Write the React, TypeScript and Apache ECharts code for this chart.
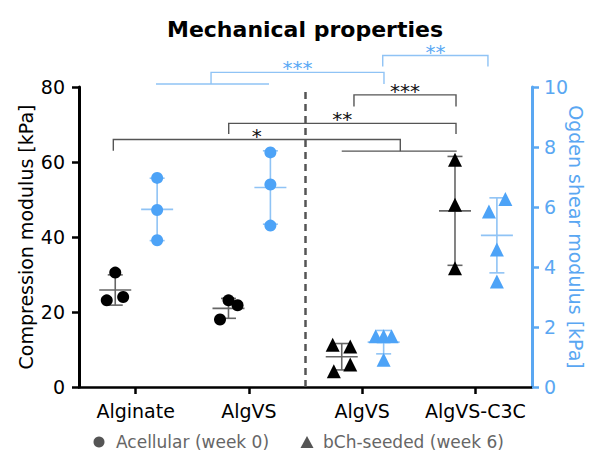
import React, { useEffect, useRef } from "react";
import * as echarts from "echarts";

// ---------- data ----------
const categories = ["Alginate", "AlgVS", "AlgVS", "AlgVS-C3C"];
const groupShapes = ["circle", "circle", "triangle", "triangle"];

// Compression modulus [kPa] (left axis), black markers
const compressionValues = [
  [23.1, 30.5, 24.0],
  [18.0, 23.1, 21.8],
  [11.3, 10.8, 4.2, 6.0],
  [60.6, 48.6, 31.7],
];
const compressionJitter = [
  [-0.075, 0, 0.07],
  [-0.075, 0, 0.08],
  [-0.08, 0.075, -0.07, 0.075],
  [0, 0, 0],
];

// Ogden shear modulus [kPa] (right axis), blue markers
const ogdenValues = [
  [6.97, 5.9, 4.89],
  [7.82, 6.75, 5.38],
  [1.69, 1.69, 1.69, 0.91],
  [5.85, 6.27, 4.58, 3.52],
];
const ogdenJitter = [
  [0, 0, 0],
  [0, 0, 0],
  [-0.07, 0, 0.07, 0],
  [-0.07, 0.075, 0, 0],
];

// Significance brackets (x in category units, y in left-axis units)
const blackBracketPaths = [
  [[[2.428, 74.8], [2.428, 77.9], [3.329, 77.9], [3.329, 74.8]]],
  [[[1.322, 67.5], [1.322, 70.3], [3.329, 70.3], [3.329, 67.5]]],
  [
    [[0.303, 63.0], [0.303, 66.0], [2.837, 66.0], [2.837, 62.9]],
    [[2.32, 62.9], [3.335, 62.9]],
  ],
];
const blackBracketLabels = ["***", "**", "*"];
const blackBracketLabelPos = [[2.878, 77.9], [2.325, 70.3], [1.57, 66.0]];

const blueBracketPaths = [
  [
    [[0.68, 80.8], [1.678, 80.8]],
    [[1.166, 80.8], [1.166, 83.9], [2.693, 83.9], [2.693, 80.8]],
  ],
  [[[2.682, 85.5], [2.682, 88.4], [3.611, 88.4], [3.611, 85.5]]],
];
const blueBracketLabels = ["***", "**"];
const blueBracketLabelPos = [[1.93, 83.9], [3.147, 88.4]];

const divider = [[2, 0], [2, 79.5]];

const leftAxis = { min: 0, max: 80, interval: 20 };
const rightAxis = { min: 0, max: 10, interval: 2 };

// ---------- styles ----------
const FONT = "DejaVu Sans";
const BLACK = "#000000";
const BLUE = "#4da3f7";
const BLUE_AXIS = "#5aa7f2";
const BLUE_LIGHT = "#8fc3f5";
const GRAY_BAR = "#666666";
const BRACKET_GRAY = "#555555";
const COMP_OFFSET = -0.18;
const OGDEN_OFFSET = 0.19;

function mean(a: number[]) {
  return a.reduce((s, v) => s + v, 0) / a.length;
}
function sd(a: number[]) {
  const m = mean(a);
  return Math.sqrt(a.reduce((s, v) => s + (v - m) * (v - m), 0) / (a.length - 1));
}

function errorBarSeries(values: number[][], offset: number, yAxisIndex: number, color: string) {
  return {
    type: "custom",
    xAxisIndex: 1,
    yAxisIndex,
    z: 2,
    clip: false,
    data: values.map((v, i) => [i + 0.5 + offset, mean(v), sd(v)]),
    renderItem: (params: any, api: any) => {
      const x = api.value(0);
      const m = api.value(1);
      const s = api.value(2);
      const top = api.coord([x, m + s]);
      const bot = api.coord([x, m - s]);
      const mid = api.coord([x, m]);
      const st = { stroke: color, lineWidth: 1.6 };
      return {
        type: "group",
        children: [
          { type: "line", shape: { x1: top[0], y1: top[1], x2: bot[0], y2: bot[1] }, style: st },
          { type: "line", shape: { x1: top[0] - 7.5, y1: top[1], x2: top[0] + 7.5, y2: top[1] }, style: st },
          { type: "line", shape: { x1: bot[0] - 7.5, y1: bot[1], x2: bot[0] + 7.5, y2: bot[1] }, style: st },
          { type: "line", shape: { x1: mid[0] - 16, y1: mid[1], x2: mid[0] + 16, y2: mid[1] }, style: st },
        ],
      };
    },
  };
}

function bracketSeries(paths: number[][][][], labels: string[], labelPos: number[][], lineColor: string, textColor: string) {
  return {
    type: "custom",
    xAxisIndex: 1,
    yAxisIndex: 0,
    z: 5,
    clip: false,
    silent: true,
    data: labels.map((_, i) => [i]),
    renderItem: (params: any, api: any) => {
      const i = params.dataIndex;
      const children: any[] = paths[i].map((path) => ({
        type: "polyline",
        shape: { points: path.map((p) => api.coord(p)) },
        style: { stroke: lineColor, lineWidth: 1.4, fill: "none" },
      }));
      const lp = api.coord(labelPos[i]);
      children.push({
        type: "text",
        x: lp[0],
        y: lp[1] - 4,
        style: {
          text: labels[i],
          fill: textColor,
          fontSize: 20,
          fontFamily: FONT,
          align: "center",
          verticalAlign: "middle",
        },
      });
      return { type: "group", children };
    },
  };
}

function scatterSeries(values: number[][], jitter: number[][], offset: number, yAxisIndex: number, color: string) {
  return values.map((vals, g) => ({
    type: "scatter",
    xAxisIndex: 1,
    yAxisIndex,
    z: 3,
    symbol: groupShapes[g],
    symbolSize: groupShapes[g] === "circle" ? 12 : 14,
    itemStyle: { color, opacity: 1 },
    data: vals.map((v, k) => [g + 0.5 + offset + jitter[g][k], v]),
  }));
}

export default function App() {
  const ref = useRef<HTMLDivElement>(null);
  useEffect(() => {
    if (!ref.current) return;
    const chart = echarts.init(ref.current, undefined, { renderer: "svg" });
    const option: any = {
      animation: false,
      backgroundColor: "#ffffff",
      textStyle: { fontFamily: FONT },
      grid: { left: 79, right: 58, top: 87, bottom: 66, containLabel: false, outerBoundsMode: "none" },
      xAxis: [
        {
          type: "category",
          data: categories,
          boundaryGap: true,
          axisLine: { show: true, lineStyle: { color: BLACK, width: 2.5 } },
          axisTick: { show: true, interval: 0, alignWithLabel: true, length: 7, lineStyle: { color: BLACK, width: 2.5 } },
          axisLabel: { interval: 0, hideOverlap: false, fontSize: 19, fontFamily: FONT, color: BLACK, margin: 14 },
          splitLine: { show: false },
        },
        { type: "value", min: 0, max: 4, show: false },
      ],
      yAxis: [
        {
          type: "value",
          position: "left",
          ...leftAxis,
          axisLine: { show: true, lineStyle: { color: BLACK, width: 3 } },
          axisTick: { show: true, length: 7, lineStyle: { color: BLACK, width: 2.5 } },
          axisLabel: { fontSize: 19, fontFamily: FONT, color: BLACK, margin: 14 },
          splitLine: { show: false },
          name: "Compression modulus [kPa]",
          nameLocation: "middle",
          nameGap: 44,
          nameMoveOverlap: false,
          nameTextStyle: { fontSize: 19, fontFamily: FONT, color: BLACK },
        },
        {
          type: "value",
          position: "right",
          ...rightAxis,
          axisLine: { show: true, lineStyle: { color: BLUE_AXIS, width: 3 } },
          axisTick: { show: true, length: 7, lineStyle: { color: BLUE_AXIS, width: 2.5 } },
          axisLabel: { fontSize: 19, fontFamily: FONT, color: BLUE_AXIS, margin: 12 },
          splitLine: { show: false },
        },
      ],
      graphic: [
        {
          type: "text",
          x: 305,
          y: 29,
          style: {
            text: "Mechanical properties",
            fontSize: 22,
            fontWeight: "bold",
            fontFamily: FONT,
            fill: "#000",
            align: "center",
            verticalAlign: "middle",
          },
        },
        {
          type: "text",
          x: 576,
          y: 237,
          rotation: -Math.PI / 2,
          style: {
            text: "Ogden shear modulus [kPa]",
            fontSize: 19,
            fontFamily: FONT,
            fill: BLUE_AXIS,
            align: "center",
            verticalAlign: "middle",
          },
        },
        { type: "circle", shape: { cx: 99, cy: 442, r: 5.5 }, style: { fill: "#555" } },
        {
          type: "text",
          x: 116,
          y: 442,
          style: { text: "Acellular (week 0)", fontSize: 17, fontFamily: FONT, fill: "#666", align: "left", verticalAlign: "middle" },
        },
        { type: "polygon", shape: { points: [[300.5, 448], [313.5, 448], [307, 436]] }, style: { fill: "#555" } },
        {
          type: "text",
          x: 323,
          y: 442,
          style: { text: "bCh-seeded (week 6)", fontSize: 17, fontFamily: FONT, fill: "#666", align: "left", verticalAlign: "middle" },
        },
      ],
      series: [
        {
          type: "line",
          xAxisIndex: 1,
          yAxisIndex: 0,
          data: divider,
          symbol: "none",
          clip: false,
          z: 1,
          lineStyle: { color: "#555", width: 2.5, type: [7, 5] },
        },
        errorBarSeries(compressionValues, COMP_OFFSET, 0, GRAY_BAR),
        errorBarSeries(ogdenValues, OGDEN_OFFSET, 1, BLUE_LIGHT),
        ...scatterSeries(compressionValues, compressionJitter, COMP_OFFSET, 0, BLACK),
        ...scatterSeries(ogdenValues, ogdenJitter, OGDEN_OFFSET, 1, BLUE),
        bracketSeries(blackBracketPaths, blackBracketLabels, blackBracketLabelPos, BRACKET_GRAY, "#111"),
        bracketSeries(blueBracketPaths, blueBracketLabels, blueBracketLabelPos, BLUE_LIGHT, "#5aa9f5"),
      ],
    };
    chart.setOption(option);
    return () => chart.dispose();
  }, []);
  return (
    <div
      ref={ref}
      style={{ position: "absolute", left: 0, top: 0, width: 590, height: 453, background: "#fff" }}
    />
  );
}
